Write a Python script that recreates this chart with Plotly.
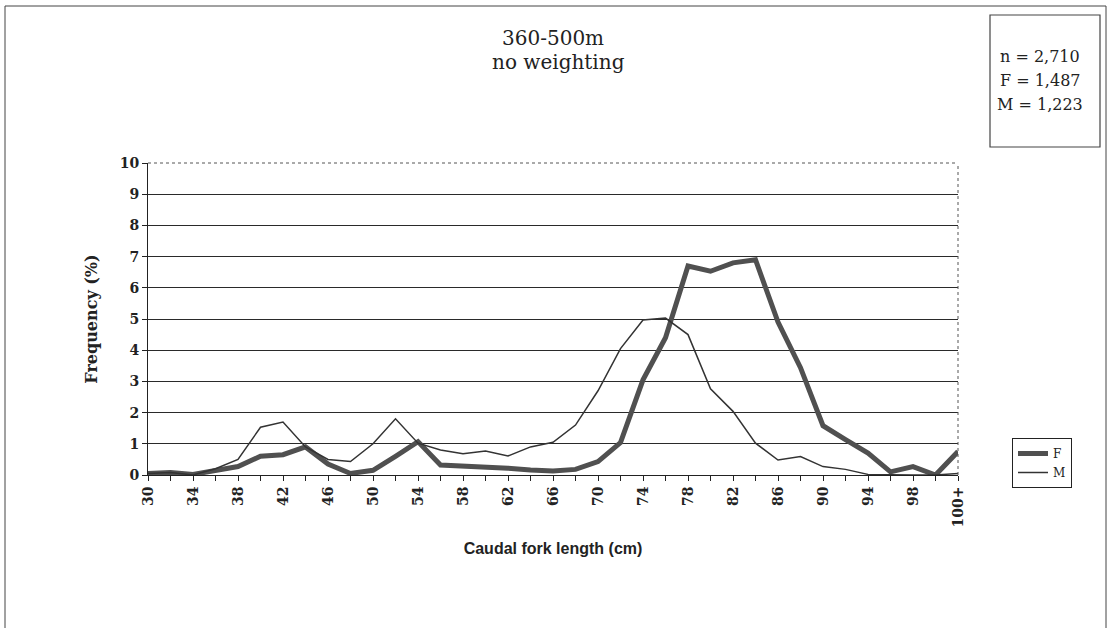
import plotly.graph_objects as go

categories = ["30", "32", "34", "36", "38", "40", "42", "44", "46", "48", "50",
              "52", "54", "56", "58", "60", "62", "64", "66", "68", "70",
              "72", "74", "76", "78", "80", "82", "84", "86", "88", "90",
              "92", "94", "96", "98", "100", "100+"]
female = [0.05, 0.08, 0.02, 0.15, 0.27, 0.6, 0.65, 0.9, 0.35, 0.05, 0.15,
          0.6, 1.07, 0.32, 0.29, 0.24, 0.22, 0.16, 0.13, 0.18, 0.43,
          1.04, 3.05, 4.4, 6.7, 6.53, 6.8, 6.9, 4.9, 3.44, 1.58,
          1.13, 0.7, 0.1, 0.27, 0.0, 0.75]
male = [0.05, 0.08, 0.0, 0.2, 0.5, 1.53, 1.7, 0.9, 0.5, 0.43, 1.0,
        1.8, 1.02, 0.8, 0.68, 0.77, 0.61, 0.9, 1.05, 1.6, 2.7,
        4.05, 4.97, 5.03, 4.5, 2.76, 2.04, 1.02, 0.48, 0.59, 0.27,
        0.18, 0.02, 0.0, 0.0, 0.0, 0.05]
y_ticks = list(range(0, 11))
info_lines = ["n = 2,710", "F = 1,487", "M = 1,223"]

W, H = 1108, 628
L, R, T, B = 148, 958, 163, 475
pos = list(range(len(categories)))

def px(x):
    return (x - L) / (R - L)

def py(y):
    return (B - y) / (B - T)

serif = "DejaVu Serif"
fig = go.Figure()
fig.add_trace(go.Scatter(x=pos, y=female, mode="lines", name="F",
                         line=dict(color="#505050", width=5)))
fig.add_trace(go.Scatter(x=pos, y=male, mode="lines", name="M",
                         line=dict(color="#333333", width=1.5)))

fig.update_layout(
    width=W, height=H,
    margin=dict(l=L, r=W - R, t=T, b=H - B),
    paper_bgcolor="white", plot_bgcolor="white",
    showlegend=True,
    legend=dict(x=px(1012), y=py(438), xanchor="left", yanchor="top",
                bordercolor="#222", borderwidth=1, bgcolor="white",
                font=dict(family=serif, size=12, color="#222"),
                itemwidth=30, tracegroupgap=0),
    xaxis=dict(range=[0, len(categories) - 1],
               tickmode="array", tickvals=pos[::2], ticktext=categories[::2],
               tickangle=-90, ticks="outside", ticklen=5, tickcolor="#222",
               minor=dict(dtick=1, tick0=0, ticks="outside", ticklen=5, tickcolor="#222"),
               showline=True, linecolor="#222", linewidth=1,
               showgrid=False, zeroline=False,
               tickfont=dict(family=serif, size=14, color="#222", weight="bold"),
               title=dict(text="Caudal fork length (cm)",
                          font=dict(family="Liberation Sans", size=16, color="#222", weight="bold"),
                          standoff=16)),
    yaxis=dict(range=[0, 10], tickvals=y_ticks, ticks="outside", ticklen=5,
               tickcolor="#222", showline=True, linecolor="#222", linewidth=1,
               showgrid=True, gridcolor="#2a2a2a", gridwidth=1, zeroline=False,
               tickfont=dict(family=serif, size=14, color="#222", weight="bold"),
               title=dict(text="Frequency (%)",
                          font=dict(family=serif, size=16, color="#222", weight="bold"),
                          standoff=18)),
)

# plot frame top/right (dotted)
fig.add_shape(type="line", xref="paper", yref="paper", x0=0, x1=1, y0=1, y1=1,
              line=dict(color="#555", width=1, dash="dot"))
fig.add_shape(type="line", xref="paper", yref="paper", x0=1, x1=1, y0=0, y1=1,
              line=dict(color="#555", width=1, dash="dot"))
# outer border
fig.add_shape(type="rect", xref="paper", yref="paper",
              x0=px(5), x1=px(1106), y0=py(640), y1=py(6),
              line=dict(color="#444", width=1), layer="below")
# info box
fig.add_shape(type="rect", xref="paper", yref="paper",
              x0=px(990), x1=px(1100), y0=py(147), y1=py(15),
              line=dict(color="#444", width=1.2))
for i, line in enumerate(info_lines):
    fig.add_annotation(xref="paper", yref="paper", x=px(1040), y=py(56 + 24 * i),
                       text=line, showarrow=False,
                       xanchor="center", yanchor="middle",
                       font=dict(family=serif, size=16, color="#222"))
# title
fig.add_annotation(xref="paper", yref="paper", x=px(553), y=py(38),
                   text="360-500m", showarrow=False,
                   xanchor="center", yanchor="middle",
                   font=dict(family=serif, size=20, color="#222"))
fig.add_annotation(xref="paper", yref="paper", x=px(558), y=py(62),
                   text="no weighting", showarrow=False,
                   xanchor="center", yanchor="middle",
                   font=dict(family=serif, size=20, color="#222"))

fig.write_html("out.html")
